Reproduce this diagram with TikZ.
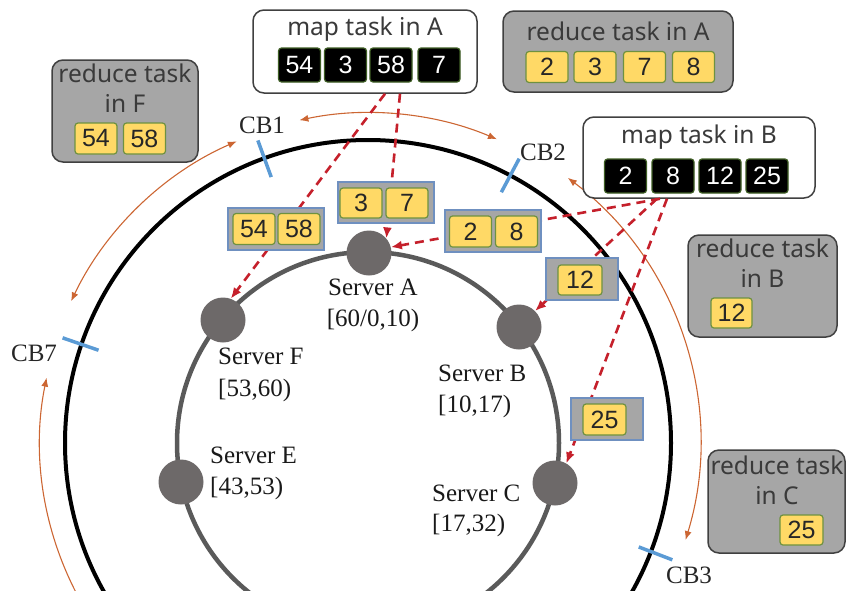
\documentclass[tikz,border=0pt]{standalone}
\usepackage{fontspec}
\setmainfont{Liberation Serif}
\newfontfamily\ttlfont{Noto Sans}
\newfontfamily\numfont{Liberation Sans}
\usetikzlibrary{arrows.meta,calc}

\definecolor{boxgray}{HTML}{A6A6A6}
\definecolor{edgegray}{HTML}{404040}
\definecolor{cellyellow}{HTML}{FFD966}
\definecolor{cellgreen}{HTML}{6E9140}
\definecolor{blkgreen}{HTML}{3F5F25}
\definecolor{msgblue}{HTML}{6F90C0}
\definecolor{dashred}{HTML}{C5202B}
\definecolor{ringorange}{HTML}{CC6633}
\definecolor{tickblue}{HTML}{5B9BD5}
\definecolor{srvgray}{HTML}{6D6969}
\definecolor{ringgray}{HTML}{5A5A5A}
\definecolor{txtgray}{HTML}{3A3A3A}

\tikzset{
  taskbox/.style={draw=edgegray, line width=1.5pt, rounded corners=11pt, inner sep=0pt},
  mapbox/.style={taskbox, fill=white},
  redbox/.style={taskbox, fill=boxgray},
  ttl/.style={font=\ttlfont\fontsize{24.5}{30}\selectfont, text=txtgray, align=center, inner sep=0pt},
  blk/.style={fill=black, draw=blkgreen, line width=1.2pt, rounded corners=3pt, text=white,
    font=\numfont\fontsize{25}{25}\selectfont, minimum width=42pt, minimum height=34pt, inner sep=0pt},
  yel/.style={fill=cellyellow, draw=cellgreen, line width=1.2pt, rounded corners=3pt, text=black!85,
    font=\numfont\fontsize{25}{25}\selectfont, minimum width=42pt, minimum height=31pt, inner sep=0pt},
  msg/.style={fill=boxgray, draw=msgblue, line width=1.2pt, inner sep=0pt},
  srv/.style={circle, fill=srvgray, minimum size=45pt, inner sep=0pt},
  srvlbl/.style={font=\fontsize{25}{28}\selectfont, text=black!90, inner sep=0pt},
  cblbl/.style={font=\fontsize{25}{28}\selectfont, text=black!85, inner sep=0pt},
  cbtick/.style={draw=tickblue, line width=3.5pt},
  flow/.style={draw=dashred, line width=2.6pt, dash pattern=on 9pt off 6pt,
    -{Latex[length=11pt,width=9pt]}},
  span/.style={draw=ringorange, line width=1.1pt,
    {Latex[length=9pt,width=7pt]}-{Latex[length=9pt,width=7pt]}},
  spanup/.style={draw=ringorange, line width=1.1pt, {Latex[length=9pt,width=7pt]}-},
}

\begin{document}
\begin{tikzpicture}[x=1pt,y=-1pt]
\useasboundingbox (0,0) rectangle (846,590);
\clip (0,0) rectangle (846,590);

% ring centre
\coordinate (c) at (368,443);

% outer ring and server ring
\draw[black, line width=4pt] (c) circle[radius=303];
\draw[ringgray, line width=4.5pt] (c) circle[radius=191];

% spans between circuit breakers
\draw[span] ($(c)+(-102:330)$) arc[start angle=-102, end angle=-67, radius=330];
\draw[span] ($(c)+(-113.5:329)$) arc[start angle=-113.5, end angle=-154.5, radius=329];
\draw[spanup] ($(c)+(-168.5:328)$) arc[start angle=-168.5, end angle=-215, radius=328];
\draw[span] ($(c)+(-53:332)$) arc[start angle=-53, end angle=17, radius=332];

% circuit breakers on the outer ring
\draw[cbtick] ($(c)+(-110:283)$) -- ($(c)+(-110:322)$);
\draw[cbtick] ($(c)+(-62:284)$) -- ($(c)+(-62:322)$);
\draw[cbtick] ($(c)+(-161:285)$) -- ($(c)+(-161:323)$);
\draw[cbtick] ($(c)+(21:290)$) -- ($(c)+(21:326)$);
\node[cblbl] (cb1) at (262,125) {CB1};
\node[cblbl] (cb2) at (543,152) {CB2};
\node[cblbl] (cb7) at (34,353) {CB7};
\node[cblbl] (cb3) at (689,575) {CB3};

% servers
\node[srv] (srvA) at (369,253) {};
\node[srv] (srvF) at (223,320) {};
\node[srv] (srvB) at (519,327) {};
\node[srv] (srvE) at (181,482) {};
\node[srv] (srvC) at (555,483) {};

\node[srvlbl] (lblA) at (373,287) {Server A};
\node[srvlbl] (rngA) at (373,320) {[60/0,10)};
\node[srvlbl, anchor=west] (lblF) at (218,356) {Server F};
\node[srvlbl, anchor=west] (rngF) at (218,390) {[53,60)};
\node[srvlbl, anchor=west] (lblB) at (438,373) {Server B};
\node[srvlbl, anchor=west] (rngB) at (438,406) {[10,17)};
\node[srvlbl, anchor=west] (lblE) at (210,455) {Server E};
\node[srvlbl, anchor=west] (rngE) at (210,488) {[43,53)};
\node[srvlbl, anchor=west] (lblC) at (432,493) {Server C};
\node[srvlbl, anchor=west] (rngC) at (432,525) {[17,32)};

% map task in A
\node[mapbox, minimum width=224pt, minimum height=83pt] (mapA) at (365,51.5) {};
\node[ttl] (mapAt) at (365,29) {map task in A};
\node[blk] (mA1) at (299.5,65) {54};
\node[blk] (mA2) at (345.5,65) {3};
\node[blk] (mA3) at (391,65) {58};
\node[blk] (mA4) at (439,65) {7};

% map task in B
\node[mapbox, minimum width=232pt, minimum height=81pt] (mapB) at (699,157.5) {};
\node[ttl] (mapBt) at (699,137) {map task in B};
\node[blk] (mB1) at (625.5,176) {2};
\node[blk] (mB2) at (673,176) {8};
\node[blk] (mB3) at (720,176) {12};
\node[blk] (mB4) at (767,176) {25};

% shuffle flows
\coordinate (aF) at ([xshift=20pt]mapA.south);
\coordinate (aA) at ([xshift=35pt]mapA.south);
\coordinate (bA) at ([xshift=-39pt]mapB.south);
\coordinate (bB) at ([xshift=-42pt]mapB.south);
\coordinate (bC) at ([xshift=-32pt]mapB.south);
\draw[flow] (aF) -- (srvF.70);
\draw[flow] (aA) -- (srvA.40);
\draw[flow] (bA) -- (srvA.15);
\draw[flow] (bB) -- (srvB.45);
\draw[flow] (bC) -- (srvC.60);

% messages in transit
\node[msg, minimum width=96pt, minimum height=42pt] (m1) at (276,229) {};
\node[yel] (m1a) at (254,229) {54};
\node[yel] (m1b) at (299,229) {58};

\node[msg, minimum width=96pt, minimum height=41pt] (m2) at (386,202.5) {};
\node[yel, minimum height=30pt] (m2a) at (361,203) {3};
\node[yel, minimum height=30pt] (m2b) at (407,203) {7};

\node[msg, minimum width=96pt, minimum height=42pt] (m3) at (493,231) {};
\node[yel] (m3a) at (470.5,231.5) {2};
\node[yel] (m3b) at (516.5,231.5) {8};

\node[msg, minimum width=72pt, minimum height=42pt] (m4) at (582,279) {};
\node[yel, minimum width=44pt, minimum height=30pt] (m4a) at (580,280) {12};

\node[msg, minimum width=72pt, minimum height=42pt] (m5) at (607,419) {};
\node[yel, minimum width=43pt] (m5a) at (604.5,419.5) {25};

% reduce task in A
\node[redbox, minimum width=230pt, minimum height=81pt] (redA) at (618,51.5) {};
\node[ttl] (redAt) at (618,31) {reduce task in A};
\node[yel] (rA1) at (547,67) {2};
\node[yel] (rA2) at (595,67) {3};
\node[yel] (rA3) at (644.5,67) {7};
\node[yel] (rA4) at (693.5,67) {8};

% reduce task in F
\node[redbox, minimum width=146pt, minimum height=102pt] (redF) at (125,111) {};
\node[ttl] (redFt) at (125,88) {reduce task\\in F};
\node[yel] (rF1) at (96,138.5) {54};
\node[yel] (rF2) at (144.5,138.5) {58};

% reduce task in B
\node[redbox, minimum width=149pt, minimum height=102pt] (redB) at (762.5,286) {};
\node[ttl] (redBt) at (762.5,263) {reduce task\\in B};
\node[yel, minimum width=41pt, minimum height=30pt] (rB1) at (731.5,313) {12};

% reduce task in C
\node[redbox, minimum width=137pt, minimum height=103pt] (redC) at (776.5,501.5) {};
\node[ttl] (redCt) at (777,480) {reduce task\\in C};
\node[yel, minimum width=43pt, minimum height=30pt] (rC1) at (801.5,530) {25};
\end{tikzpicture}
\end{document}
